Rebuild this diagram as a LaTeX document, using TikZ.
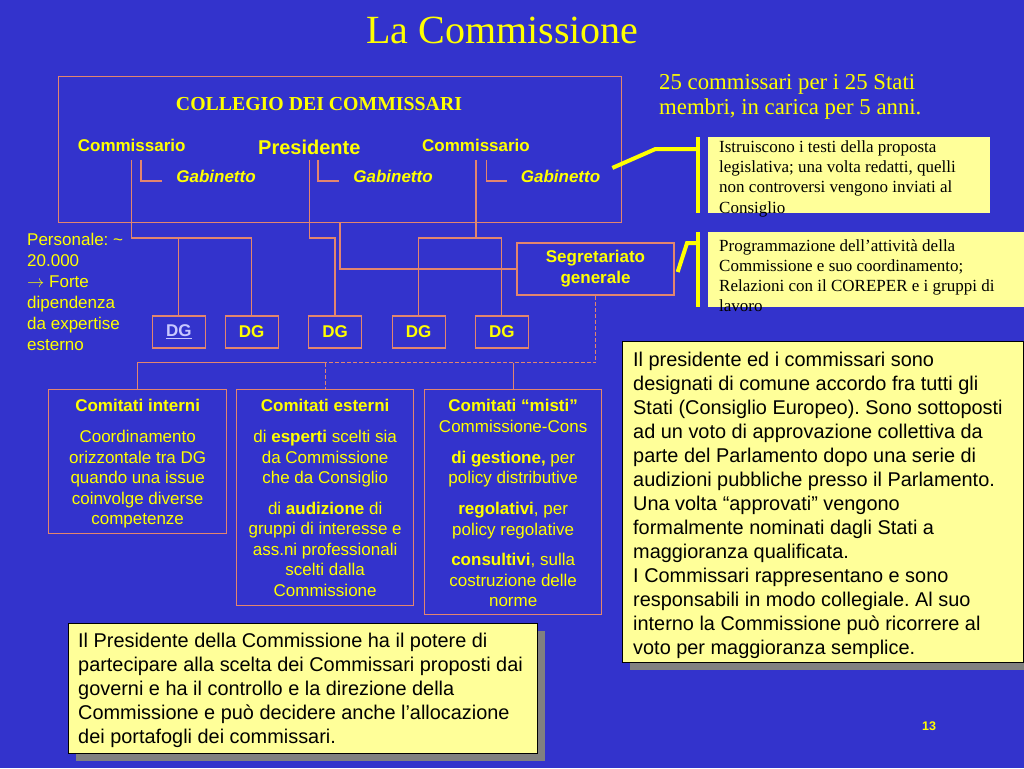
\documentclass[tikz,border=0pt]{standalone}
\usepackage{fontspec}
\setmainfont{Liberation Sans}
\newfontfamily\tmsfont{Liberation Serif}
\usetikzlibrary{calc,shadows}
\definecolor{bgblue}{RGB}{51,51,204}
\definecolor{ytext}{RGB}{255,255,0}
\definecolor{pale}{RGB}{255,255,153}
\definecolor{lnc}{RGB}{226,134,110}
\definecolor{shd}{RGB}{128,128,128}
\definecolor{linkc}{RGB}{200,200,255}
\newcommand\setfs[2]{\fontsize{#1}{#2}\selectfont}
\frenchspacing
\begin{document}
\begin{tikzpicture}[x=1pt,y=-1pt,
  ln/.style={draw=lnc, line width=1.3pt},
  dln/.style={ln, dash pattern=on 4pt off 2pt},
  ybar/.style={draw=ytext, line width=4pt},
  obox/.style={draw=lnc, line width=1.3pt, inner sep=0pt, anchor=north west},
  dgbox/.style={draw=lnc, line width=1.3pt, inner sep=0pt, minimum width=53pt, minimum height=32pt, text=ytext, font=\bfseries\setfs{17}{20}},
  txt/.style={anchor=base, inner sep=0pt, text=ytext},
  ctext/.style={anchor=north, align=center, inner sep=0pt, text=ytext, font=\setfs{17}{20.5}},
  ltext/.style={anchor=north west, align=left, inner sep=0pt},
  ybox/.style={fill=pale, inner sep=0pt, anchor=north west},
  sbox/.style={fill=pale, draw=black, line width=0.8pt, inner sep=0pt, anchor=north west,
    drop shadow={shadow xshift=8pt, shadow yshift=-8pt, fill=shd, opacity=1}}
]
\fill[bgblue] (0,0) rectangle (1024,768);
\useasboundingbox (0,0) rectangle (1024,768);

% title
\node[txt, font=\tmsfont\setfs{40}{48}] (title) at (502.5,44) {La Commissione};

% collegio
\node[obox, minimum width=563pt, minimum height=146pt] (coll) at (58,76) {};
\node[txt, font=\tmsfont\bfseries\setfs{19.8}{24}] (colltitle) at (319,110.5) {COLLEGIO DEI COMMISSARI};
\node[txt, font=\bfseries\setfs{17}{20}] (comL) at (131.7,151) {Commissario};
\node[txt, font=\bfseries\setfs{20}{24}] (pres) at (309.3,154) {Presidente};
\node[txt, font=\bfseries\setfs{17}{20}] (comR) at (476,151) {Commissario};
\node[txt, font=\bfseries\itshape\setfs{17}{20}] (gabL) at (216,182) {Gabinetto};
\node[txt, font=\bfseries\itshape\setfs{17}{20}] (gabM) at (393,182) {Gabinetto};
\node[txt, font=\bfseries\itshape\setfs{17}{20}] (gabR) at (560.5,182) {Gabinetto};
\draw[ln] ($(gabL.west)+(-35,-16)$) |- ($(gabL.west)+(-14,5)$);
\draw[ln] ($(gabM.west)+(-35,-16)$) |- ($(gabM.west)+(-14,5)$);
\draw[ln] ($(gabR.west)+(-34,-16)$) |- ($(gabR.west)+(-14,5)$);

% DG boxes
\node[dgbox] (dg1) at (178.8,332) {\textcolor{linkc}{\underline{DG}}};
\node[dgbox] (dg2) at (251.7,332) {DG};
\node[dgbox] (dg3) at (335,332) {DG};
\node[dgbox] (dg4) at (418.7,332) {DG};
\node[dgbox] (dg5) at (501.8,332) {DG};
\coordinate (busA) at (0,238);
\draw[ln] ($(comL.base)+(0,9)$) |- (dg2.north |- busA) -- (dg2.north);
\draw[ln] (dg1.north) -- (dg1.north |- busA);
\draw[ln] ($(pres.base)+(0,6)$) |- (dg3.north |- busA) -- (dg3.north);
\draw[ln] ($(comR.base)+(0,9)$) -- (comR.base |- busA);
\draw[ln] (dg4.north) |- (dg5.north |- busA) -- (dg5.north);

% segretariato
\node[dgbox, minimum width=157pt, minimum height=52pt, align=center, font=\bfseries\setfs{17}{21}] (seg) at (595.5,269) {Segretariato\\generale};
\draw[ln] ($(coll.south west)+(282,0)$) |- (seg.west);

% left text
\node[ltext, text=ytext, font=\setfs{17}{21}] (pers) at (27,233) {Personale: \textasciitilde\\20.000\\$\rightarrow$ Forte\\dipendenza\\da expertise\\esterno};

% committees
\node[obox, minimum width=178pt, minimum height=144pt] (ci) at (48,389) {};
\node[obox, minimum width=177pt, minimum height=216pt] (ce) at (236,389) {};
\node[obox, minimum width=177pt, minimum height=225pt] (cm) at (424,389) {};
\node[ctext] (ci-t) at ($(ci.north)+(0,10)$) {\textbf{Comitati interni}\\[10.5pt]Coordinamento\\orizzontale tra DG\\quando una issue\\coinvolge diverse\\competenze};
\node[ctext] (ce-t) at ($(ce.north)+(0,10)$) {\textbf{Comitati esterni}\\[10.5pt]di \textbf{esperti} scelti sia\\da Commissione\\che da Consiglio\\[10pt]di \textbf{audizione} di\\gruppi di interesse e\\ass.ni professionali\\scelti dalla\\Commissione};
\node[ctext] (cm-t) at ($(cm.north)+(0,10)$) {\textbf{Comitati “misti”}\\Commissione-Cons\\[10.5pt]\textbf{di gestione,} per\\policy distributive\\[10.5pt]\textbf{regolativi}, per\\policy regolative\\[10pt]\textbf{consultivi}, sulla\\costruzione delle\\norme};
\coordinate (busB) at (0,362.7);
\draw[dln] (seg.south) |- (ce.north |- busB);
\draw[ln] (ce.north |- busB) -| (ci.north);
\draw[dln] (ce.north |- busB) -- (ce.north);
\draw[ln] (cm.north |- busB) -- (cm.north);

% top right text
\node[ltext, text=ytext, font=\tmsfont\setfs{22.75}{25}] (info) at (659,74) {25 commissari per i 25 Stati\\membri, in carica per 5 anni.};

% small yellow boxes
\node[ybox, minimum width=282pt, minimum height=76pt] (boxA) at (708,137) {};
\node[ltext, font=\tmsfont\setfs{17}{20.2}] (boxA-t) at (719,140.6) {Istruiscono i testi della proposta\\legislativa; una volta redatti, quelli\\non controversi vengono inviati al\\Consiglio};
\node[ybox, minimum width=316pt, minimum height=75pt] (boxB) at (708,232) {};
\node[ltext, font=\tmsfont\setfs{17}{20.2}] (boxB-t) at (719,239) {Programmazione dell’attività della\\Commissione e suo coordinamento;\\Relazioni con il COREPER e i gruppi di\\lavoro};
\draw[ybar] ($(boxA.north west)+(-10,0)$) -- ($(boxA.south west)+(-10,0)$);
\draw[ybar] ($(boxB.north west)+(-10,0)$) -- ($(boxB.south west)+(-10,0)$);
\draw[ybar] ($(gabR.east)+(12,-8)$) -- ($(boxA.west)+(-53,-26)$) -- ($(boxA.west)+(-10,-26)$);
\draw[ybar] ($(seg.east)+(3,3)$) -- ($(boxB.west)+(-21,-26.5)$) -- ($(boxB.west)+(-10,-26.5)$);

% big right box
\node[sbox, minimum width=401pt, minimum height=321pt] (rbox) at (622,341) {};
\node[ltext, font=\setfs{19.9}{24}] (rbox-t) at (633,352) {Il presidente ed i commissari sono\\designati di comune accordo fra tutti gli\\Stati (Consiglio Europeo). Sono sottoposti\\ad un voto di approvazione collettiva da\\parte del Parlamento dopo una serie di\\audizioni pubbliche presso il Parlamento.\\Una volta “approvati” vengono\\formalmente nominati dagli Stati a\\maggioranza qualificata.\\I Commissari rappresentano e sono\\responsabili in modo collegiale. Al suo\\interno la Commissione può ricorrere al\\voto per maggioranza semplice.};

% lower left box
\node[sbox, minimum width=469pt, minimum height=130pt] (lbox) at (68,623) {};
\node[ltext, font=\setfs{19.9}{24}] (lbox-t) at (78,632.5) {Il Presidente della Commissione ha il potere di\\partecipare alla scelta dei Commissari proposti dai\\governi e ha il controllo e la direzione della\\Commissione e può decidere anche l’allocazione\\dei portafogli dei commissari.};

% page number
\node[txt, font=\bfseries\setfs{12.5}{15}] (pg) at (929,730.5) {13};
\end{tikzpicture}
\end{document}
